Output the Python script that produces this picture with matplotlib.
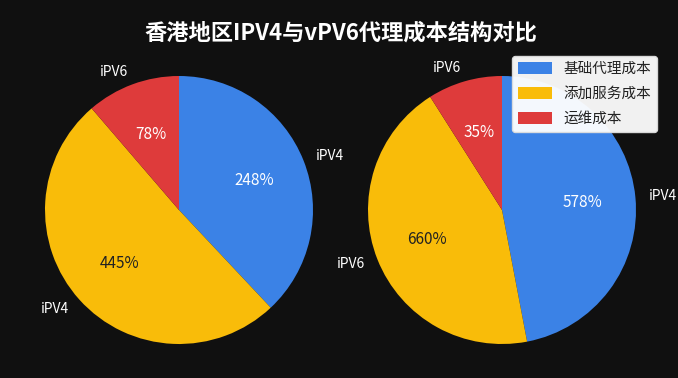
import matplotlib
matplotlib.use("Agg")
import matplotlib.pyplot as plt

plt.rcParams['font.family'] = ['Noto Sans CJK SC', 'DejaVu Sans']

# Data (wedge shares; displayed texts as shown)
legend_names = ['基础代理成本', '添加服务成本', '运维成本']
colors = ['#3B82E6', '#F9BC09', '#DE3B3B']

left_shares = [38.0, 50.7, 11.3]
left_labels = ['iPV4', 'iPV4', 'iPV6']
left_pct_text = ['248%', '445%', '78%']

right_shares = [47.0, 44.0, 9.0]
right_labels = ['iPV4', 'iPV6', 'iPV6']
right_pct_text = ['578%', '660%', '35%']

title = '香港地区IPV4与vPV6代理成本结构对比'

W, H = 678, 378
fig = plt.figure(figsize=(W / 100, H / 100), dpi=100, facecolor='#101010')

side = 335
ax_l = fig.add_axes([(179 - side / 2) / W, (H - 210 - side / 2) / H, side / W, side / H])
ax_r = fig.add_axes([(502 - side / 2) / W, (H - 210 - side / 2) / H, side / W, side / H])

pct_colors = ['white', '#222222', 'white']

def draw(ax, shares, labels, pcts):
    it = iter(pcts)
    wedges, texts, autotexts = ax.pie(
        shares, labels=labels, colors=colors, startangle=90, counterclock=False,
        autopct=lambda p: next(it), pctdistance=0.6, labeldistance=1.1,
        textprops=dict(fontsize=10, color='white'))
    for t, c in zip(autotexts, pct_colors):
        t.set_color(c)
        t.set_fontsize(11)
    ax.set_xlim(-1.25, 1.25)
    ax.set_ylim(-1.25, 1.25)
    ax.set_aspect('equal')
    ax.set_facecolor('none')
    return wedges

wl = draw(ax_l, left_shares, left_labels, left_pct_text)
draw(ax_r, right_shares, right_labels, right_pct_text)

fig.text(341 / W, 1 - 33 / H, title, ha='center', va='center', fontsize=16,
         fontweight='bold', color='white')

leg = fig.legend(wl, legend_names, loc='upper right', bbox_to_anchor=(657 / W, 1 - 56 / H),
                 bbox_transform=fig.transFigure, borderaxespad=0, fontsize=10.5,
                 handlelength=2.3, handleheight=0.9, labelspacing=0.75, frameon=True,
                 fancybox=True, framealpha=0.95, facecolor='white', edgecolor='#dddddd')
for t in leg.get_texts():
    t.set_color('#222222')

fig.savefig('out.png', dpi=100, facecolor=fig.get_facecolor())
